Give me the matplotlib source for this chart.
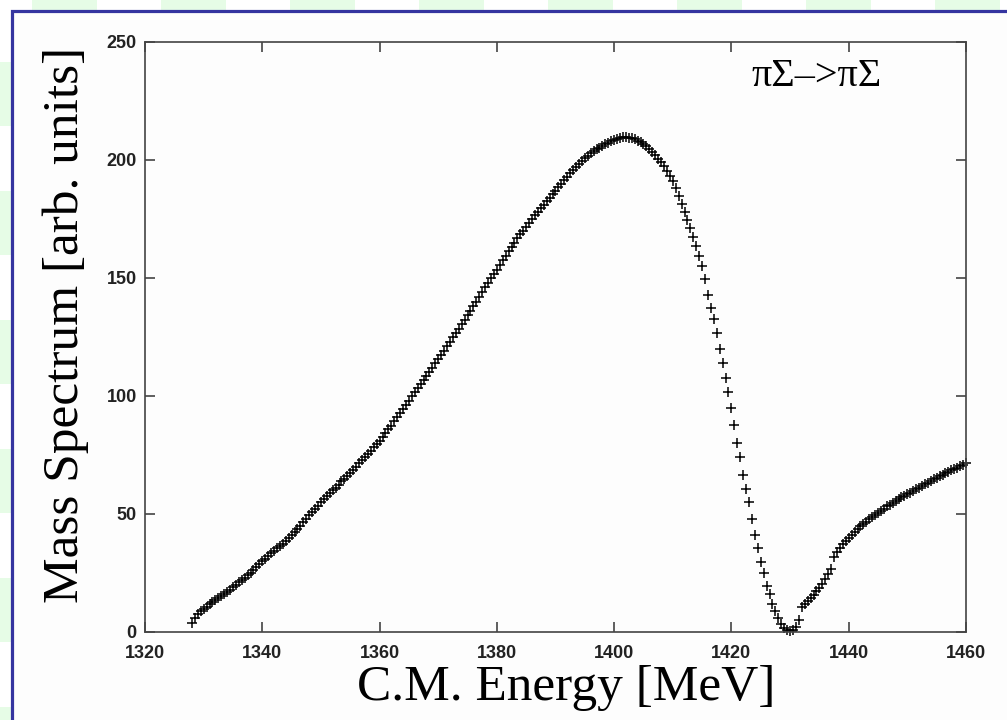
import numpy as np
import matplotlib
matplotlib.use('Agg')
from matplotlib import pyplot as plt
from matplotlib.patches import Rectangle

# C.M. energy grid [MeV], 0.5 MeV steps
energy = np.arange(1328.0, 1460.25, 0.5)

# mass spectrum [arb. units], read point by point
spectrum = [
    3.7, 6.0, 7.5, 8.7, 9.8, 10.8, 11.7, 12.6, 13.5, 14.4, 15.2, 16.1, 17.0, 18.0, 19.0, 20.0, 21.0, 22.0, 23.0, 24.0,
    25.0, 26.2, 27.4, 28.7, 30.0, 31.1, 32.2, 33.4, 34.5, 35.5, 36.5, 37.5, 38.5, 39.8, 41.0, 42.3, 43.5, 45.0, 46.5, 48.0,
    49.5, 50.9, 52.2, 53.6, 55.0, 56.2, 57.5, 58.8, 60.0, 61.2, 62.5, 63.8, 65.0, 66.2, 67.5, 68.8, 70.0, 71.4, 72.8, 74.1,
    75.5, 76.9, 78.2, 79.6, 81.0, 82.6, 84.2, 85.9, 87.5, 89.2, 91.0, 92.7, 94.5, 96.2, 98.0, 99.8, 101.5, 103.2, 105.0, 106.8,
    108.5, 110.2, 112.0, 113.8, 115.5, 117.4, 119.2, 121.1, 123.0, 124.9, 126.8, 128.6, 130.5, 132.4, 134.2, 136.1, 138.0, 140.0, 142.0, 144.0,
    146.0, 147.9, 149.8, 151.6, 153.5, 155.5, 157.5, 159.5, 161.5, 163.2, 165.0, 166.8, 168.5, 170.1, 171.8, 173.4, 175.0, 176.5, 178.0, 179.5,
    181.0, 182.5, 184.0, 185.5, 187.0, 188.5, 190.0, 191.5, 193.0, 194.4, 195.8, 197.2, 198.5, 199.6, 200.8, 201.9, 203.0, 203.8, 204.5, 205.2,
    206.0, 206.6, 207.3, 207.9, 208.5, 209.0, 209.5, 209.6, 209.6, 209.5, 209.2, 208.8, 208.2, 207.5, 206.6, 205.8, 204.8, 203.6, 202.2, 200.6,
    199.0, 197.3, 195.5, 193.3, 191.0, 188.0, 184.7, 181.4, 178.0, 174.5, 171.0, 167.4, 163.7, 159.4, 155.0, 149.5, 143.0, 137.5, 132.5, 126.5,
    120.0, 114.0, 107.5, 101.5, 94.8, 87.7, 80.0, 74.0, 66.5, 60.7, 55.0, 47.7, 41.0, 35.5, 29.5, 25.0, 19.6, 16.0, 11.7, 8.8,
    6.0, 3.5, 1.8, 0.8, 0.5, 0.8, 2.2, 5.0, 10.7, 12.0, 13.2, 14.3, 15.7, 17.2, 18.8, 20.5, 22.5, 24.5, 26.7, 31.8,
    33.8, 35.5, 37.2, 38.5, 39.9, 41.2, 42.5, 43.6, 44.8, 45.8, 46.8, 47.7, 48.6, 49.6, 50.5, 51.4, 52.3, 53.2, 54.0, 54.8,
    55.5, 56.3, 57.0, 57.7, 58.4, 59.1, 59.8, 60.5, 61.2, 61.9, 62.6, 63.3, 64.0, 64.7, 65.3, 66.0, 66.6, 67.3, 67.9, 68.5,
    69.1, 69.7, 70.3, 70.8, 71.4,
]

x_ticks = [1320, 1340, 1360, 1380, 1400, 1420, 1440, 1460]
y_ticks = [0, 50, 100, 150, 200, 250]
channel = 'πΣ–>πΣ'

W, H = 1007, 720
fig = plt.figure(figsize=(W / 100, H / 100), dpi=100)

# slide background: pale green checker + white panel with blue frame
bg = fig.add_axes([0, 0, 1, 1])
bg.set_xlim(0, W)
bg.set_ylim(H, 0)
bg.axis('off')
cell = 64.5
for c in range(0, 18):
    for r in range(0, 13):
        if (c + r) % 2 == 1:
            bg.add_patch(Rectangle((-32.5 + cell * c, -3 + cell * r), cell, cell,
                                   facecolor='#e6fce6', edgecolor='none'))
bg.add_patch(Rectangle((12, 11), 1200, 900, facecolor='#fdfdfd',
                       edgecolor='#3535a0', linewidth=2.3))

ax = fig.add_axes([145 / W, 1 - 632 / H, (966 - 145) / W, (632 - 42) / H])
ax.set_facecolor('none')
ax.plot(energy, spectrum, linestyle='none', marker='+', color='black',
        markersize=6.5, markeredgewidth=1.1, clip_on=False)

ax.set_xlim(1320, 1460)
ax.set_ylim(0, 250)
ax.set_xticks(x_ticks)
ax.set_yticks(y_ticks)
ax.tick_params(direction='in', length=7, width=1.1, color='#333333',
               top=True, right=True, pad=6)
ax.tick_params(axis='x', pad=9)
for lab in ax.get_xticklabels() + ax.get_yticklabels():
    lab.set_fontfamily('Liberation Sans')
    lab.set_fontweight('bold')
    lab.set_fontsize(13)
    lab.set_color('#222222')
for sp in ax.spines.values():
    sp.set_color('#444444')
    sp.set_linewidth(1.2)

ax.set_xlabel('C.M. Energy [MeV]', family='Liberation Serif', fontsize=37, va='center')
ax.xaxis.set_label_coords((566 - 145) / 821, (632 - 688) / 590)
ax.set_ylabel('Mass Spectrum [arb. units]', family='Liberation Serif', fontsize=37, va='center')
ax.yaxis.set_label_coords((66 - 145) / 821, (632 - 325) / 590)
ax.text(817, 76, channel, transform=bg.transData, family='Liberation Serif',
        fontsize=29, ha='center', va='center')

fig.savefig('out.png', dpi=100)
